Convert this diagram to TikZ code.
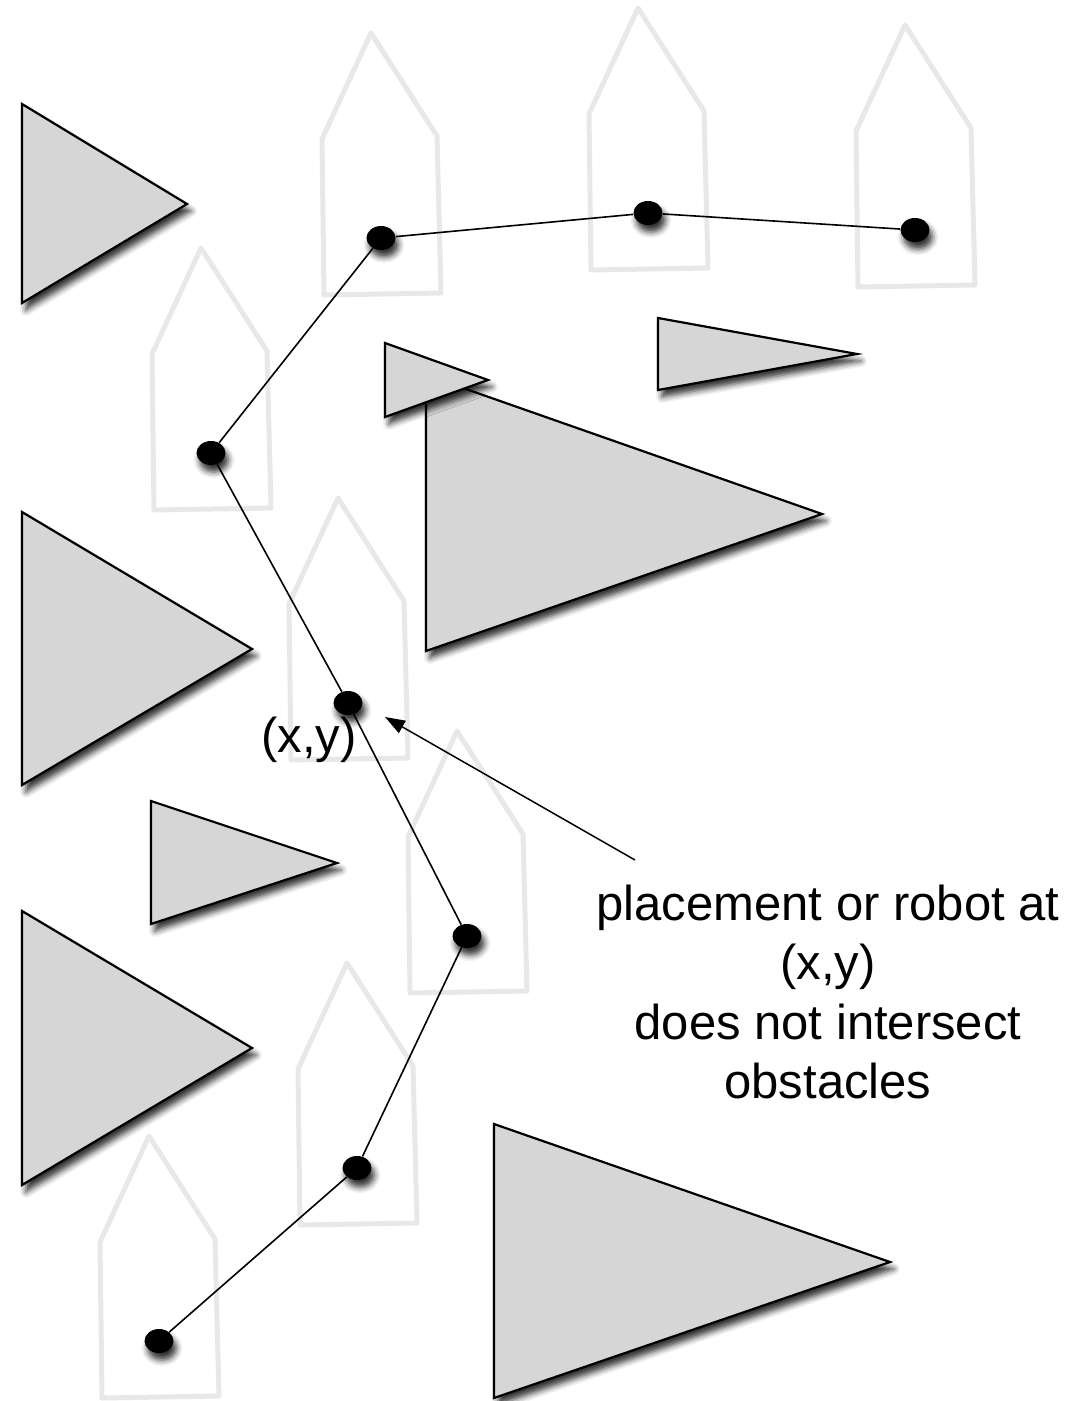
\documentclass[tikz,border=0pt]{standalone}
\usepackage{fontspec}
\setmainfont{Liberation Sans}
\usepackage{tikz}
\usetikzlibrary{arrows.meta,positioning,shapes.geometric,shadows.blur,backgrounds}

\definecolor{robotgray}{gray}{0.91}
\definecolor{obstaclegray}{gray}{0.84}

\begin{document}
\begin{tikzpicture}[x=0.5pt,y=-0.5pt]
		\tikzstyle{dot}=[ellipse,fill=black,inner sep=0pt,minimum width=14.5pt,minimum height=12pt,
			blur shadow={shadow xshift=1.5pt,shadow yshift=-3.5pt,shadow blur radius=3pt,shadow opacity=80}]
		\tikzstyle{route}=[line width=0.8pt]
		\tikzstyle{robot}=[draw=robotgray,line width=2.5pt,line join=round]
		\tikzstyle{obstacle}=[fill=obstaclegray,draw=black,line width=1.1pt,
			blur shadow={shadow xshift=2pt,shadow yshift=-3.5pt,shadow blur radius=3pt,shadow opacity=80}]
		\tikzstyle{note}=[font=\fontsize{24.5}{29.75}\selectfont,align=center,inner sep=0pt]
		\tikzstyle{pointer}=[-{Triangle[length=10pt,width=7pt]},line width=0.75pt]
		\useasboundingbox (0,0) rectangle (1075,1401);
		\node[dot] (0) at (159,1341) {};
		\node[dot] (1) at (357,1168) {};
		\node[dot] (2) at (467,936) {};
		\node[dot] (3) at (348,703) {};
		\node[dot] (4) at (211,453) {};
		\node[dot] (5) at (381,238) {};
		\node[dot] (6) at (648,213) {};
		\node[dot] (7) at (915,230) {};
		\path[route]
		(0) edge (1)
		(1) edge (2)
		(2) edge (3)
		(3) edge (4)
		(4) edge (5)
		(5) edge (6)
		(6) edge (7);
		\node[note,anchor=base] (xy) at (309,752) {(x,y)};
		\node[note] (text) at (828,992) {placement or robot at\\(x,y)\\does not intersect\\obstacles};
		\coordinate (tail) at (635,860);
		\coordinate (tip) at (385,717);
		\draw[pointer] (tail) -- (tip);
		\begin{scope}[on background layer]
			% robot outline at every waypoint
			\foreach \n in {0,...,7}
				\draw[robot] ([shift={(-10,-205)}]\n.center) -- ([shift={(56,-102)}]\n.center)
					-- ([shift={(60,55)}]\n.center) -- ([shift={(-57,57)}]\n.center)
					-- ([shift={(-59,-99)}]\n.center) -- cycle;
			% obstacles
			\draw[obstacle] (22,104) -- (187,204) -- (22,303) -- cycle;
			\draw[obstacle] (658,318) -- (857,354) -- (658,390) -- cycle;
			\draw[obstacle] (426,375) -- (822,514) -- (426,651) -- cycle;
			\draw[obstacle] (385,343) -- (488,380) -- (385,417) -- cycle;
			\draw[obstacle] (22,512) -- (252,649) -- (22,785) -- cycle;
			\draw[obstacle] (151,801) -- (337,863) -- (151,924) -- cycle;
			\draw[obstacle] (22,911) -- (252,1048) -- (22,1185) -- cycle;
			\draw[obstacle] (494,1124) -- (890,1262) -- (494,1398) -- cycle;
		\end{scope}
	\end{tikzpicture}
\end{document}
